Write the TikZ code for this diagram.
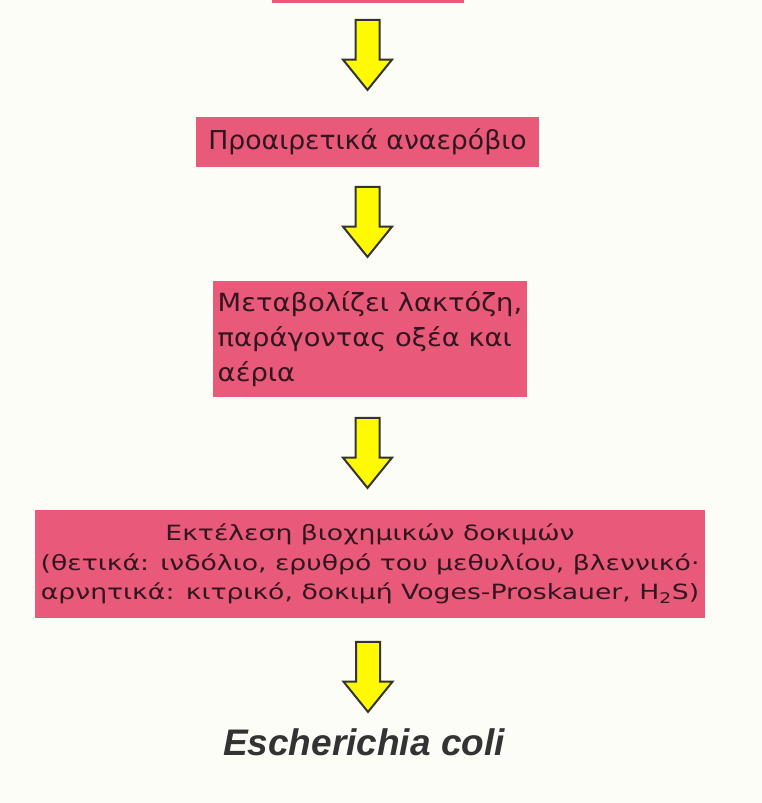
\documentclass[tikz,border=0pt]{standalone}
\usepackage{fontspec}
\setmainfont{Liberation Sans}
\newfontfamily\boxfonta[FakeStretch=1.026]{DejaVu Sans}
\newfontfamily\boxfontb[FakeStretch=1.094]{DejaVu Sans}
\newfontfamily\boxfontc[FakeStretch=1.27]{DejaVu Sans}
\usetikzlibrary{shapes.arrows}
\definecolor{pinkbox}{RGB}{233,89,122}
\definecolor{paper}{RGB}{253,253,248}
\definecolor{inktext}{RGB}{50,22,30}
\definecolor{arrowfill}{RGB}{255,250,0}
\tikzset{
  box/.style={rectangle, fill=pinkbox, draw=none, inner sep=0pt, text=inktext},
  yarrow/.style={single arrow, draw=black!80, line width=2pt, fill=arrowfill,
    shape border rotate=270, minimum height=70pt, minimum width=47pt,
    single arrow head extend=12.5pt, single arrow tip angle=78,
    inner xsep=11pt, inner ysep=0pt, anchor=tip}
}
\begin{document}
\begin{tikzpicture}[x=1pt,y=-1pt]
\fill[paper] (0,0) rectangle (762,803);
\useasboundingbox (0,0) rectangle (762,803);
% boxes
\node[box, minimum width=192pt, minimum height=10pt] (b1) at (368,-2.5) {};
\node[box, minimum width=343pt, minimum height=50pt,
      font=\boxfonta\fontsize{26}{30}\selectfont] (b2) at (367.5,142) {Προαιρετικά αναερόβιο};
\node[box, minimum width=314pt, minimum height=116pt, align=left,
      font=\boxfontb\fontsize{25}{35}\selectfont] (b3) at (370,339)
      {Μεταβολίζει λακτόζη,\\παράγοντας οξέα και\\αέρια};
\node[box, minimum width=670pt, minimum height=108pt, align=center,
      font=\boxfontc\fontsize{21}{29.5}\selectfont] (b4) at (370,564)
      {Εκτέλεση βιοχημικών δοκιμών\\(θετικά: ινδόλιο, ερυθρό του μεθυλίου, βλεννικό·\\αρνητικά: κιτρικό, δοκιμή Voges-Proskauer, H\textsubscript{2}S)};
\node[text=black!80, font=\fontsize{37}{40}\selectfont\bfseries\itshape] (ec) at (364,742) {Escherichia coli};
% arrows
\node[yarrow] (a1) at (367.5,91.5) {};
\node[yarrow] (a2) at (367.5,258.5) {};
\node[yarrow] (a3) at (367.5,489.5) {};
\node[yarrow] (a4) at (368,713.5) {};
\end{tikzpicture}
\end{document}
